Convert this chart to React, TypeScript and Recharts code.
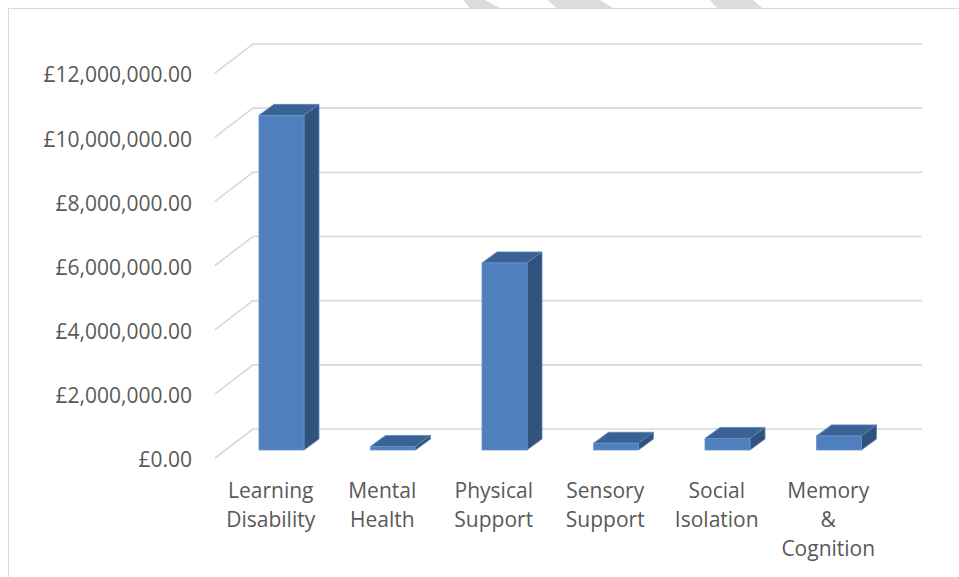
import { BarChart, Bar, XAxis, YAxis, CartesianGrid } from "recharts";

const categories = [
  "Learning Disability",
  "Mental Health",
  "Physical Support",
  "Sensory Support",
  "Social Isolation",
  "Memory & Cognition",
];
const spend = [10430000, 110000, 5830000, 210000, 360000, 440000];
const yTicks = [0, 2000000, 4000000, 6000000, 8000000, 10000000, 12000000];

const data = categories.map((name, i) => ({ name, spend: spend[i] }));

// oblique depth of the back wall, and where the bars sit inside it
const WALL_DX = 38;
const WALL_DY = -29;
const BAR_DX0 = 11;
const BAR_DY0 = -8;
const BAR_DX = 15;
const BAR_DY = -11;

const GRID = "#d9d9d9";
const TEXT = "#595959";
const FONT = "'Open Sans', sans-serif";

const money = (v: number) =>
  "£" + v.toFixed(2).replace(/\B(?=(\d{3})+(?!\d))/g, ",");

function GridLine(p: any) {
  const d = `M${p.x1},${p.y1} L${p.x1 + WALL_DX},${p.y1 + WALL_DY} L${p.x2 + WALL_DX},${p.y2 + WALL_DY}`;
  return <path key={`g-${p.y1}`} d={d} stroke={GRID} strokeWidth={1.6} fill="none" />;
}

function Bar3D(props: any) {
  const { x, y, width, height } = props;
  if (x == null || y == null) return null;
  const fx = x + BAR_DX0;
  const fy = y + BAR_DY0;
  const r = fx + width;
  const b = fy + height;
  return (
    <g>
      <polygon
        points={`${fx},${fy} ${fx + BAR_DX},${fy + BAR_DY} ${r + BAR_DX},${fy + BAR_DY} ${r},${fy}`}
        fill="#3b6294"
        stroke="#5b86bb"
        strokeWidth={0.8}
      />
      <polygon
        points={`${r},${fy} ${r + BAR_DX},${fy + BAR_DY} ${r + BAR_DX},${b + BAR_DY} ${r},${b}`}
        fill="#31527c"
        stroke="#5b86bb"
        strokeWidth={0.8}
      />
      <rect x={fx} y={fy} width={width} height={height} fill="#4f80bd" stroke="#6a95c9" strokeWidth={0.8} />
    </g>
  );
}

function CategoryTick(p: any) {
  const words = String(p.payload.value).split(" ");
  return (
    <text
      x={p.x}
      y={p.y + 32}
      textAnchor="middle"
      fill={TEXT}
      fontSize={21}
      fontFamily={FONT}
      dominantBaseline="central"
    >
      {words.map((w, i) => (
        <tspan key={i} x={p.x} dy={i === 0 ? 0 : 29}>
          {w}
        </tspan>
      ))}
    </text>
  );
}

export default function App() {
  return (
    <div
      style={{
        position: "absolute",
        left: 0,
        top: 0,
        width: 959,
        height: 577,
        overflow: "hidden",
        background: "#fff",
      }}
    >
      <div
        style={{
          position: "absolute",
          left: 8,
          top: 8,
          width: 1000,
          height: 600,
          borderLeft: `1.5px solid ${GRID}`,
          borderTop: `1.5px solid ${GRID}`,
        }}
      />
      <svg width={959} height={9} style={{ position: "absolute", left: 0, top: 0 }}>
        <polygon points="463,0 485,0 500,8 470,8" fill="#dcdcdc" />
        <polygon points="547,0 600,0 613,8 557,8" fill="#dcdcdc" />
        <polygon points="710,0 753,0 762,8 717,8" fill="#dcdcdc" />
      </svg>
      <div style={{ position: "absolute", left: 0, top: 0 }}>
        <BarChart
          width={959}
          height={577}
          data={data}
          margin={{ top: 73, right: 75, bottom: 0, left: 0 }}
        >
          <CartesianGrid vertical={false} horizontal={GridLine as any} />
          <XAxis
            dataKey="name"
            height={119}
            axisLine={false}
            tickLine={false}
            tickSize={0}
            tickMargin={0}
            interval={0}
            tick={CategoryTick}
          />
          <YAxis
            width={215}
            domain={[0, 12000000]}
            ticks={yTicks}
            axisLine={false}
            tickLine={false}
            tickSize={0}
            tickMargin={23}
            tickFormatter={money}
            tick={{ fill: TEXT, fontSize: 21, fontFamily: FONT, dy: 2 }}
          />
          <Bar dataKey="spend" barSize={45} shape={Bar3D} isAnimationActive={false} />
        </BarChart>
      </div>
    </div>
  );
}
